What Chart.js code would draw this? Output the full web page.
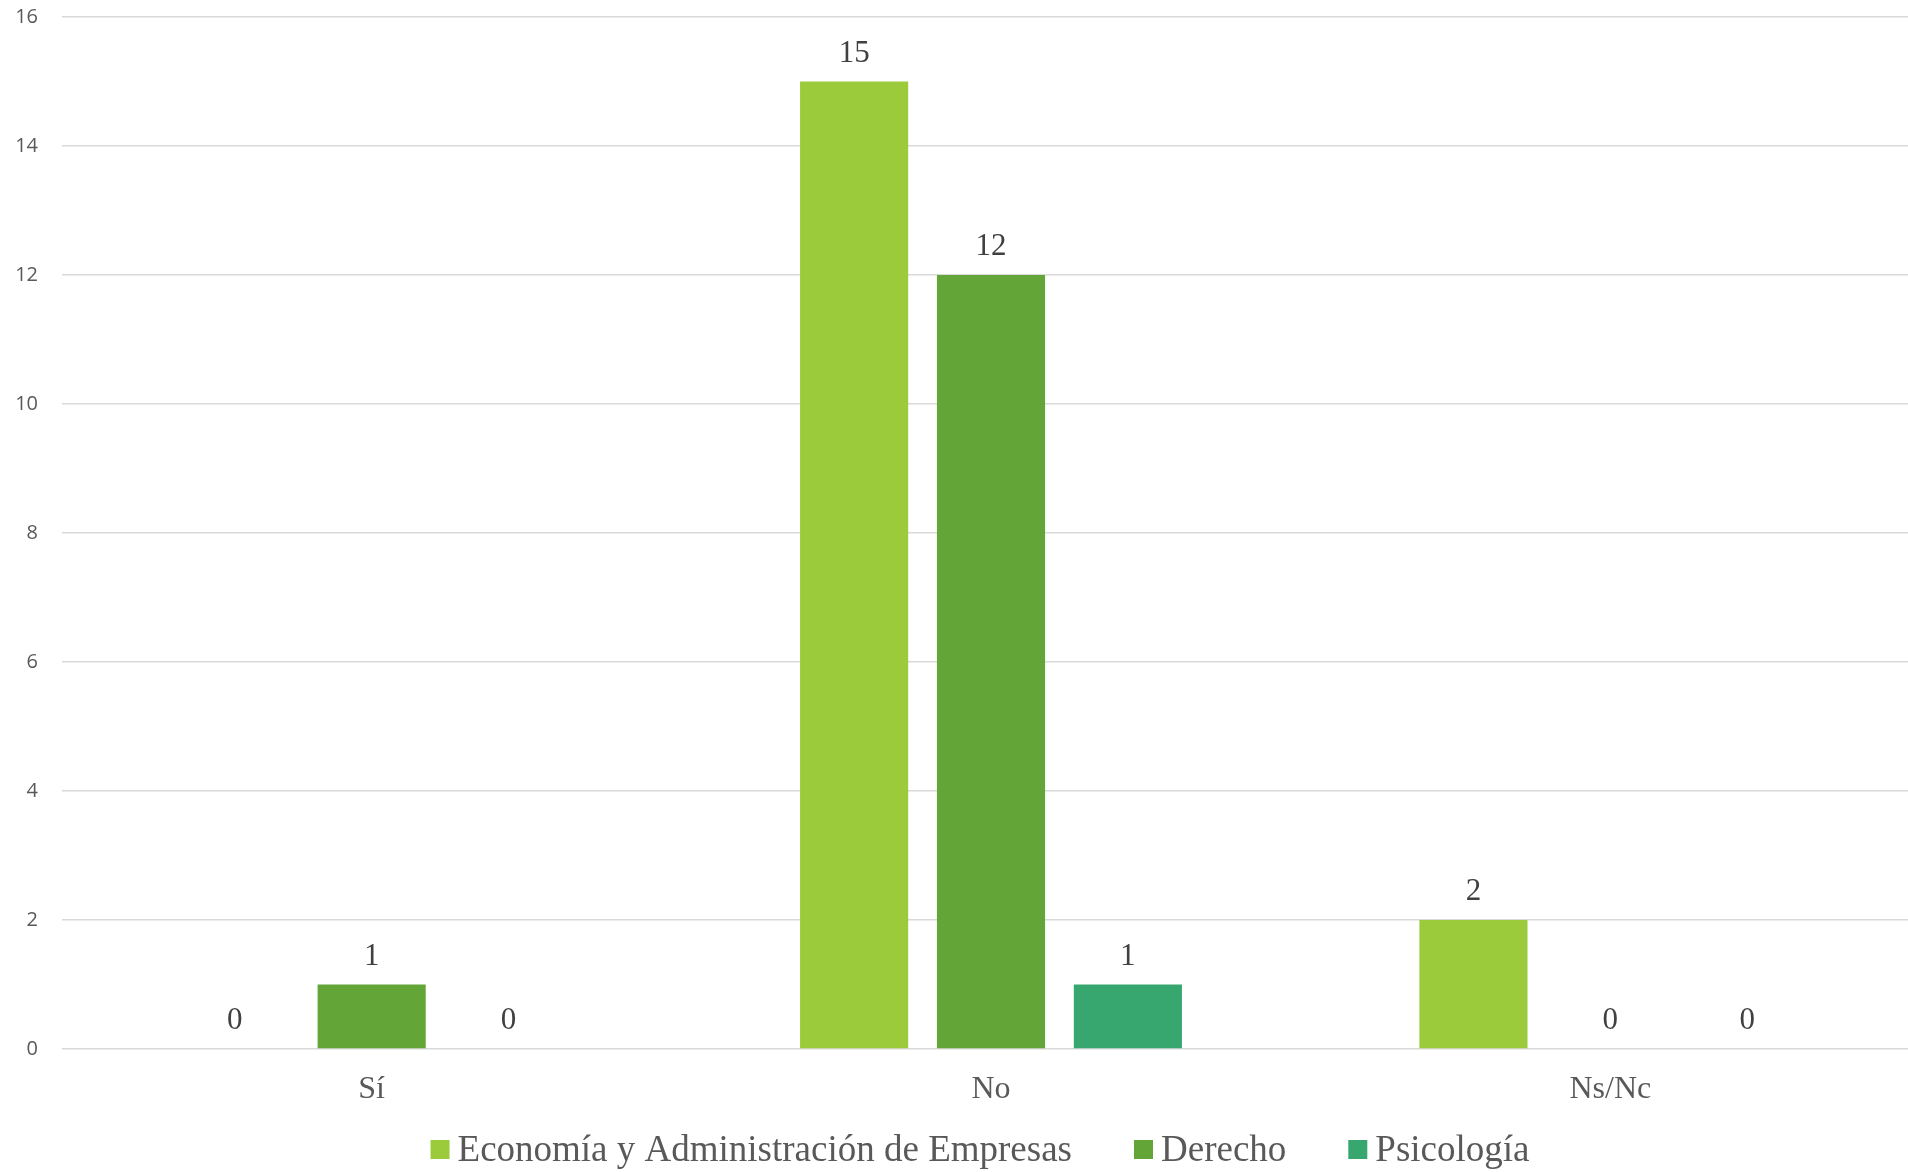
<html>
<head>
<script src="https://cdn.jsdelivr.net/npm/chart.js"></script>
<style>
  html, body { margin: 0; padding: 0; background: #fff; overflow: hidden; }
  #wrap { width: 1908px; height: 1172px; overflow: hidden; }
</style>
</head>
<body>
<div id="wrap">
  <canvas id="myChart" width="1920" height="1172"></canvas>
</div>
<script>
// data
var categories = ['Sí', 'No', 'Ns/Nc'];
var economia = [0, 15, 2];
var derecho = [1, 12, 0];
var psicologia = [0, 1, 0];
var seriesNames = ['Economía y Administración de Empresas', 'Derecho', 'Psicología'];
var seriesColors = ['#9BCB3B', '#63A537', '#37A76F'];

var serif = "'Liberation Serif', 'Times New Roman', serif";

// writes the value above each bar
var valueLabels = {
  id: 'valueLabels',
  afterDatasetsDraw: function (chart) {
    var ctx = chart.ctx;
    ctx.save();
    ctx.font = '31px ' + serif;
    ctx.fillStyle = '#404040';
    ctx.textAlign = 'center';
    ctx.textBaseline = 'middle';
    chart.data.datasets.forEach(function (ds, i) {
      var meta = chart.getDatasetMeta(i);
      meta.data.forEach(function (bar, j) {
        ctx.fillText(ds.data[j], bar.x, bar.y - 28);
      });
    });
    ctx.restore();
  }
};

// legend drawn by hand so the spacing matches (box, small gap, wide gap between items)
var bottomLegend = {
  id: 'bottomLegend',
  afterDraw: function (chart) {
    var ctx = chart.ctx;
    var box = 19, gap = 8, between = 62;
    ctx.save();
    ctx.font = '37px ' + serif;
    var items = chart.data.datasets.map(function (ds) {
      return { text: ds.label, color: ds.backgroundColor, w: ctx.measureText(ds.label).width };
    });
    var total = 0;
    items.forEach(function (it, i) {
      total += box + gap + it.w + (i < items.length - 1 ? between : 0);
    });
    var center = (chart.chartArea.left + chart.chartArea.right) / 2 - 11;
    var x = center - total / 2;
    var baseline = chart.height - 11;
    ctx.textAlign = 'left';
    ctx.textBaseline = 'alphabetic';
    items.forEach(function (it) {
      ctx.fillStyle = it.color;
      ctx.fillRect(x, baseline - 21, box, box);
      x += box + gap;
      ctx.fillStyle = '#595959';
      ctx.fillText(it.text, x, baseline);
      x += it.w + between;
    });
    ctx.restore();
  }
};

var ctx = document.getElementById('myChart').getContext('2d');
var chart = new Chart(ctx, {
  type: 'bar',
  data: {
    labels: categories,
    datasets: [
      { label: seriesNames[0], data: economia, backgroundColor: seriesColors[0] },
      { label: seriesNames[1], data: derecho, backgroundColor: seriesColors[1] },
      { label: seriesNames[2], data: psicologia, backgroundColor: seriesColors[2] }
    ]
  },
  options: {
    responsive: false,
    animation: false,
    devicePixelRatio: 1,
    layout: { padding: { left: 14, top: 17, right: 0, bottom: 43 } },
    datasets: { bar: { categoryPercentage: 0.663, barPercentage: 0.79 } },
    plugins: {
      tooltip: { enabled: false },
      legend: { display: false }
    },
    scales: {
      x: {
        grid: { display: false },
        border: { display: false },
        ticks: { font: { family: serif, size: 32 }, color: '#595959', padding: 13 },
        afterFit: function (scale) {
          scale.height = 80;
          scale.paddingLeft = 0;
          scale.paddingRight = 0;
        }
      },
      y: {
        min: 0,
        max: 16,
        grid: { color: '#D9D9D9', lineWidth: 1.5, drawTicks: false },
        border: { display: false },
        ticks: { stepSize: 2, font: { family: "'Open Sans', sans-serif", size: 20 }, color: '#595959', padding: 24 },
        afterFit: function (scale) {
          scale.width = 48;
          scale.paddingTop = 0;
          scale.paddingBottom = 0;
        }
      }
    }
  },
  plugins: [valueLabels, bottomLegend]
});
</script>
</body>
</html>
